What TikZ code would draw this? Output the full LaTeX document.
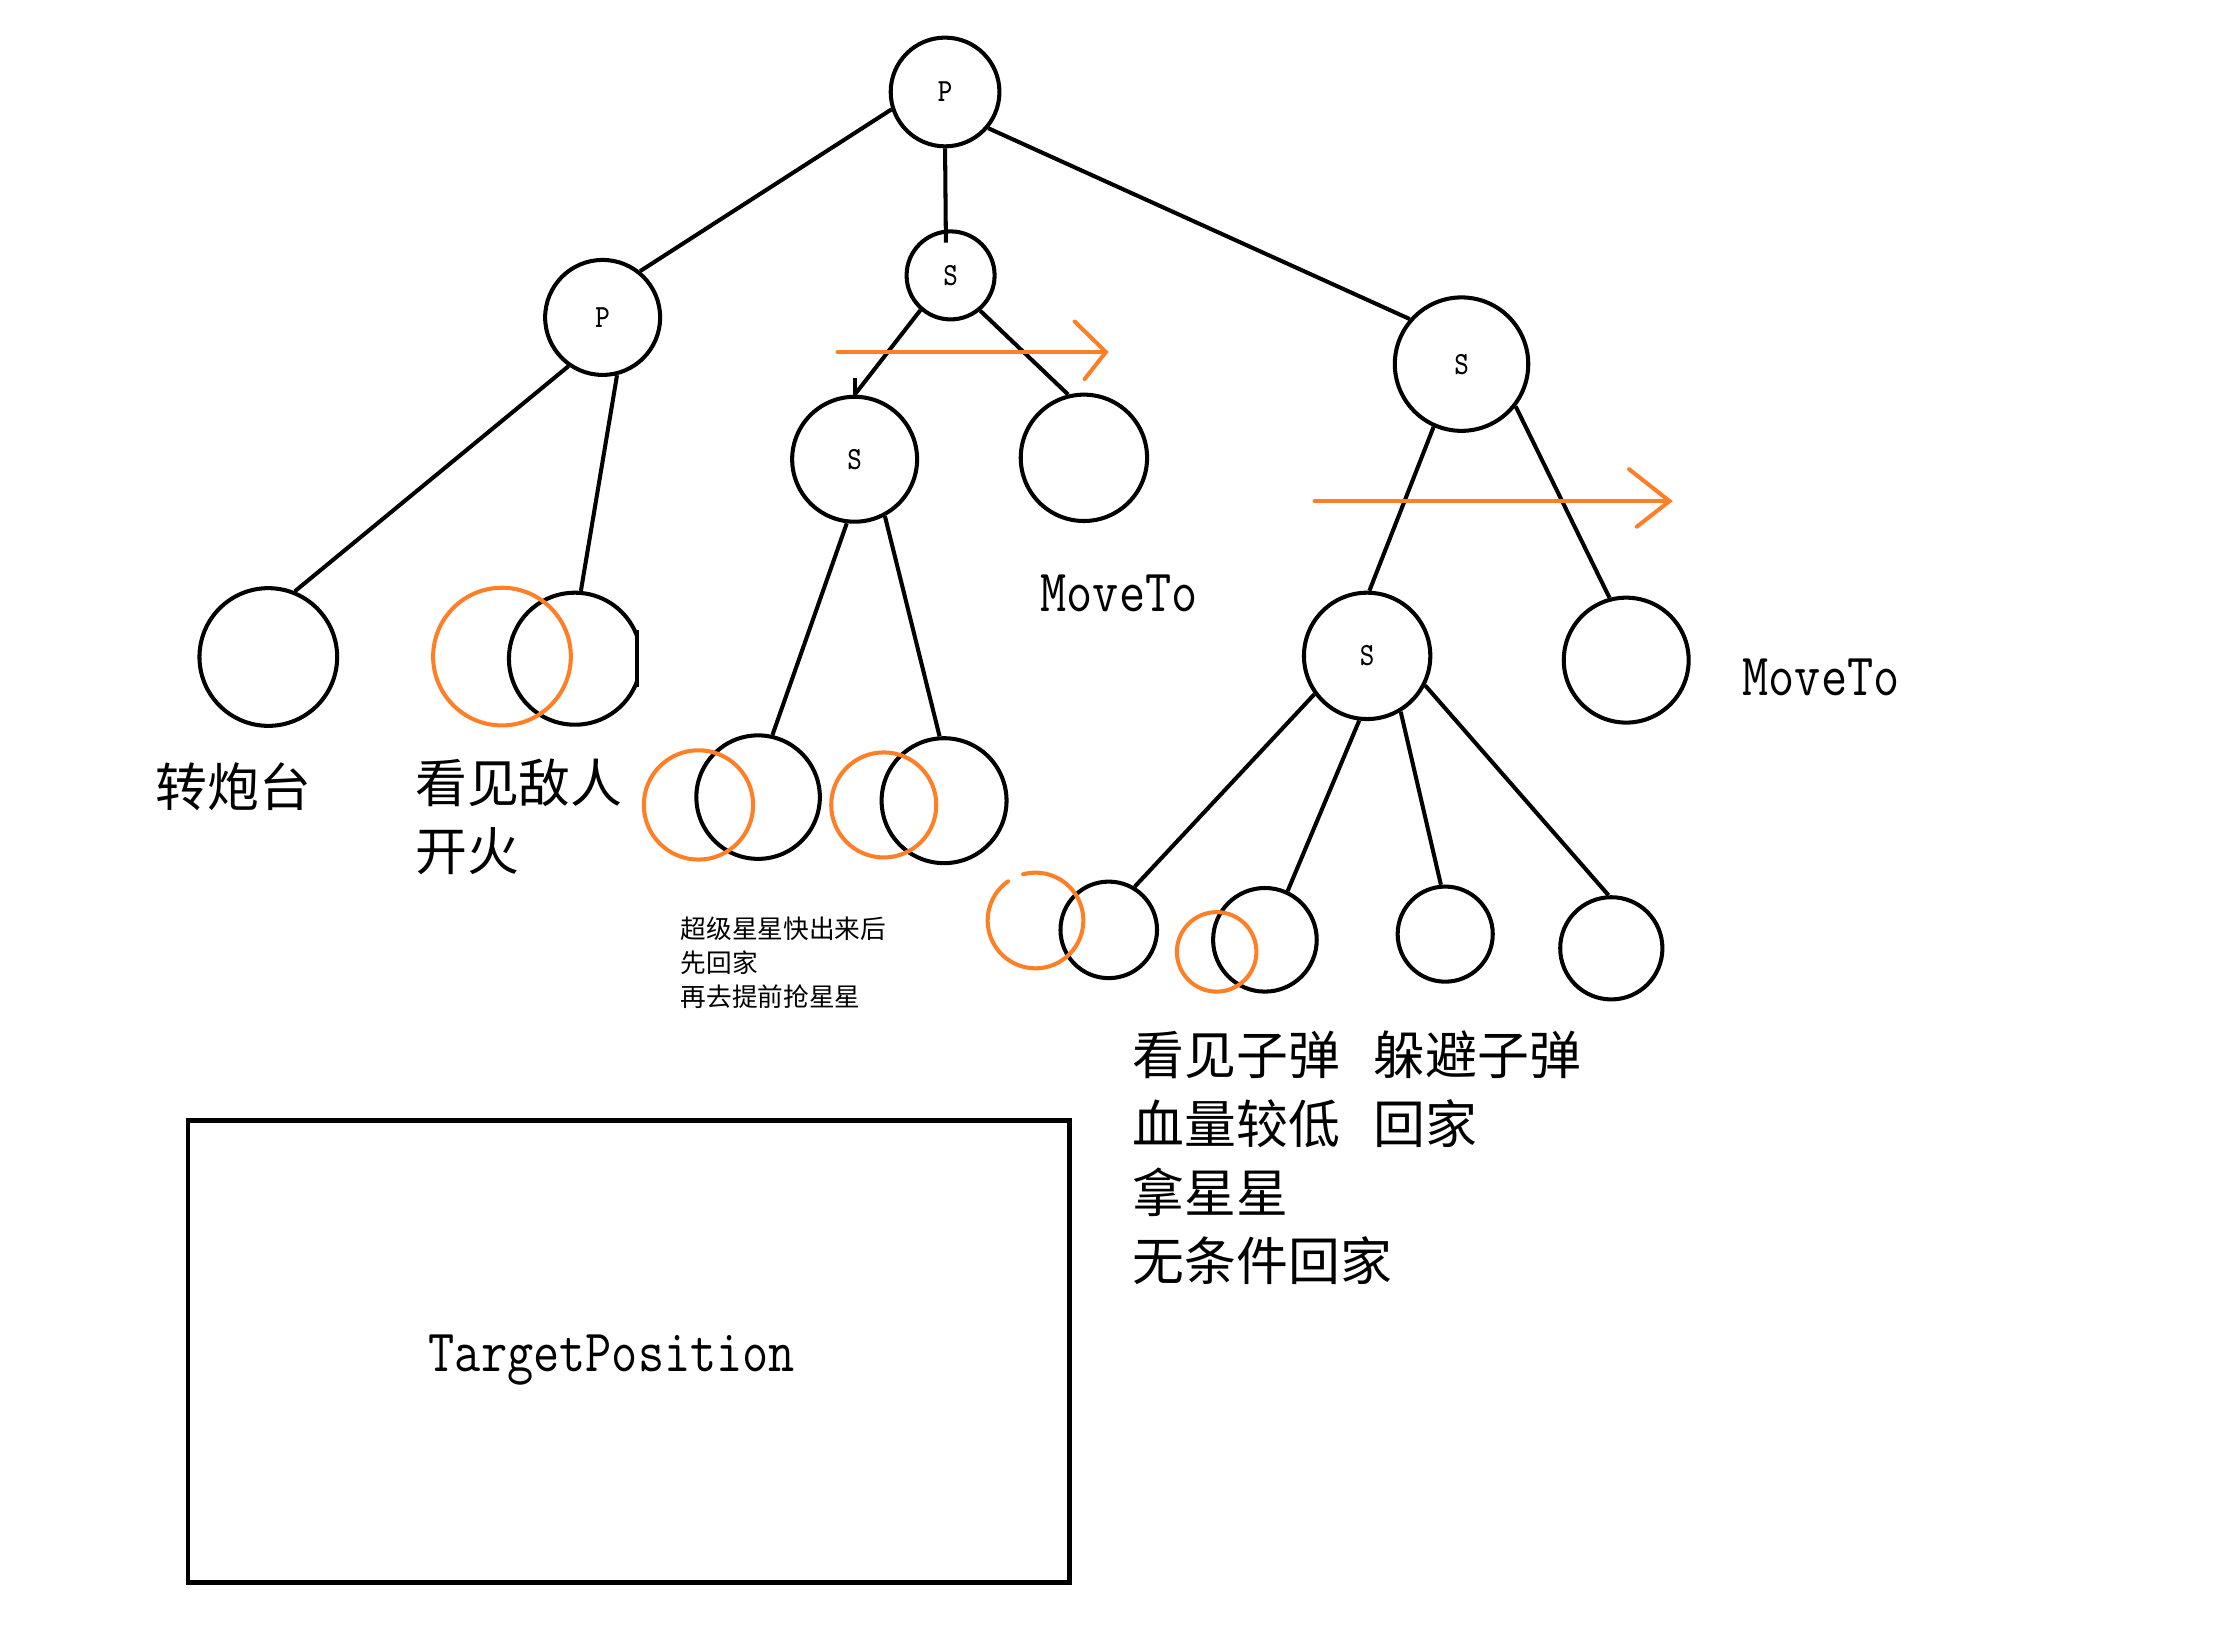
\documentclass[tikz,border=0pt]{standalone}
\usepackage{fontspec}
\usepackage{graphicx}
\newfontfamily\cjk{Noto Sans CJK SC}
\definecolor{hlorange}{HTML}{FF7F27}
\newcommand\nlab[1]{\scalebox{1}[1.18]{\ttfamily\fontsize{7.8pt}{9pt}\selectfont #1}}
\newcommand\mono[1]{\scalebox{1}[1.18]{\ttfamily\fontsize{14.45pt}{17pt}\selectfont #1}}
\tikzset{
  nd/.style={circle, draw, line width=1.15pt, inner sep=0pt, minimum size=2*#1*0.014196cm},
  edge/.style={line width=1.15pt},
  hl/.style={draw=hlorange, line width=1.15pt, line cap=round},
  cjkbig/.style={font=\cjk\fontsize{14.75pt}{19.5pt}\selectfont, align=left, inner sep=0pt},
  cjksmall/.style={font=\cjk\fontsize{7.3pt}{9.65pt}\selectfont, align=left, inner sep=0pt},
  boxed/.style={draw, line width=1.4pt, inner sep=0pt},
}
\begin{document}
\begin{tikzpicture}[x=0.014196cm,y=-0.014196cm]
\useasboundingbox (0,0) rectangle (1568,1155);

% tree nodes
\node[nd=38.3] (root) at (665.7,64.8) {\nlab{P}};
\node[nd=40.5] (lp) at (424.5,223.6) {\nlab{P}};
\node[nd=31] (ms) at (669.6,194) {\nlab{S}};
\node[nd=47] (rs) at (1029.5,256.5) {\nlab{S}};
\node[nd=44] (ms2) at (602,323.5) {\nlab{S}};
\node[nd=44.5] (ml) at (763.5,322.5) {};
\node[nd=48.5] (l1) at (189,462.8) {};
\begin{scope}
  \clip (300,400) rectangle (449.5,530);
  \node[nd=46.5] (l2) at (405,464) {};
\end{scope}
\draw[edge] (448.5,444) -- (448.5,484);
\node[nd=43.5] (la) at (534,561.5) {};
\node[nd=44] (lb) at (665,564) {};
\node[nd=44.5] (s2) at (963,462) {\nlab{S}};
\node[nd=44] (rl) at (1145.5,465) {};
\node[nd=34] (c1) at (781,655) {};
\node[nd=36.5] (c2) at (891,662) {};
\node[nd=33.5] (c3) at (1018,658) {};
\node[nd=36] (c4) at (1135,668) {};

% edges
\draw[edge] (root.198) -- (lp.51.5);
\draw[edge, shorten >=-0.13cm] (root.270) -- (ms.96);
\draw[edge] (root.320) -- (rs.139.7);
\draw[edge] (lp.235) -- (l1.68.6);
\draw[edge] (lp.284) -- (l2.85);
\draw[edge] (ms.229) -- (ms2.90);
\draw[edge] (ms2.90) -- ++(0,-12);
\draw[edge] (ms.310) -- (ml.104);
\draw[edge] (ms2.263.5) -- (la.77);
\draw[edge] (ms2.298) -- (lb.94);
\draw[edge] (rs.246) -- (s2.88.7);
\draw[edge] (rs.322.6) -- (rl.105.6);
\draw[edge] (s2.216) -- (c1.59.4);
\draw[edge] (s2.263.6) -- (c2.65.6);
\draw[edge] (s2.301) -- (c3.95);
\draw[edge] (s2.333) -- (c4.93);

% orange marks
\draw[hl] (353.6,462.5) circle[radius=48.5];
\draw[hl] (492,567) circle[radius=38.5];
\draw[hl] (622.5,567) circle[radius=37];
\draw[hl] (729.4,648.4) ++(125:33.7 and -33.7) arc[start angle=125, end angle=465, x radius=33.7, y radius=-33.7];
\draw[hl] (857,670.5) circle[radius=28];

\coordinate (a1s) at (590,248);
\coordinate (a1e) at (779,248);
\draw[hl] (a1s) -- (a1e);
\draw[hl] (a1e) ++(-22,-21.5) -- (a1e) -- ++(-15,19);
\coordinate (a2s) at (926,353);
\coordinate (a2e) at (1176,353);
\draw[hl] (a2s) -- (a2e);
\draw[hl] (a2e) ++(-28.5,-22.5) -- (a2e) -- ++(-23,18);

% texts
\node[cjkbig, anchor=west] (t1) at (109,554.5) {转炮台};
\node[cjkbig, anchor=west] (t2) at (292,575.5) {看见敌人\\开火};
\node[cjksmall, anchor=west] (t3) at (479,678) {超级星星快出来后\\先回家\\再去提前抢星星};
\node[cjkbig, anchor=west] (t4) at (797.5,815.7) {看见子弹\hspace{0.65em}躲避子弹\\血量较低\hspace{0.65em}回家\\拿星星\\无条件回家};
\node[anchor=base west, inner sep=0pt] (m1) at (732.5,431) {\mono{MoveTo}};
\node[anchor=base west, inner sep=0pt] (m2) at (1227,490) {\mono{MoveTo}};

% target box
\node[boxed, minimum width=8.814cm, minimum height=4.612cm] (tp) at (443,952) {};
\node[anchor=base, inner sep=0pt] (tpt) at (431,966.3) {\mono{TargetPosition}};
\end{tikzpicture}
\end{document}
